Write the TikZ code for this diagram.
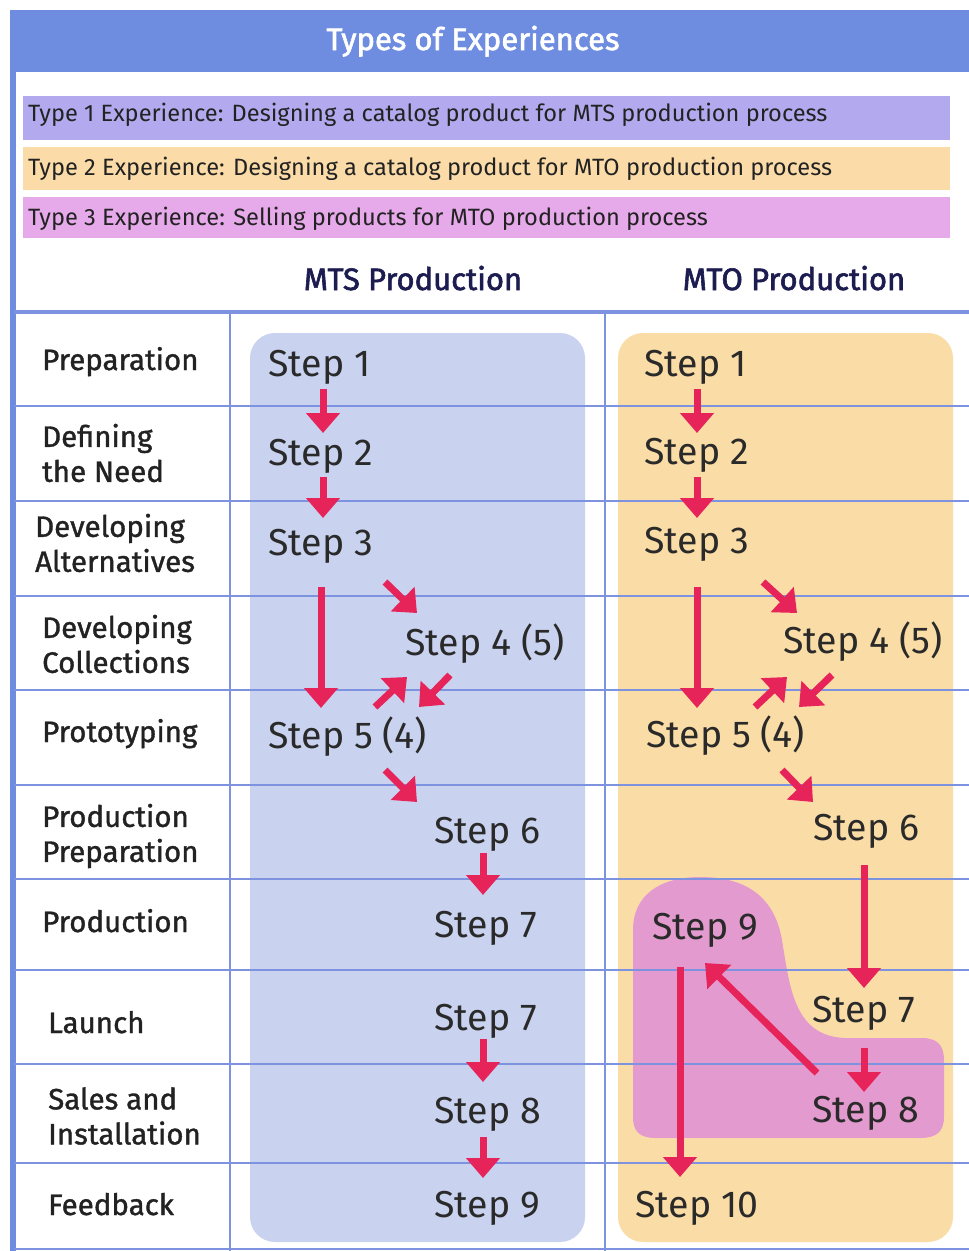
\documentclass[tikz,border=0pt]{standalone}
\usepackage{fontspec}
\setmainfont{Fira Sans}
\newfontfamily\medfont[FakeBold=1.2]{Fira Sans}
\newfontfamily\headfont[FakeBold=2]{Fira Sans}
\usetikzlibrary{arrows.meta}
\definecolor{bandblue}{HTML}{6E8CE0}
\definecolor{gridblue}{HTML}{7D93DF}
\definecolor{legpurple}{HTML}{B3A9EE}
\definecolor{legorange}{HTML}{FBDCA9}
\definecolor{legpink}{HTML}{E6A9EA}
\definecolor{mtspanel}{HTML}{C9D3EF}
\definecolor{mtopanel}{HTML}{FADDA6}
\definecolor{blobpink}{HTML}{E39BCF}
\definecolor{arrred}{HTML}{E6245A}
\definecolor{navyink}{HTML}{1C1C50}
\definecolor{labink}{HTML}{222222}
\definecolor{stepink}{HTML}{2A2A2A}
\begin{document}
\begin{tikzpicture}[x=1pt,y=-1pt,
  legtxt/.style={anchor=base west,inner sep=0,font=\fontsize{23.6}{26}\selectfont,text=labink},
  colhead/.style={anchor=base,inner sep=0,font=\headfont\fontsize{31}{34}\selectfont,text=navyink},
  rowlab/.style={inner sep=0,align=left,font=\medfont\fontsize{29.5}{35}\selectfont,text=labink},
  steptxt/.style={anchor=base west,inner sep=0,font=\fontsize{37.5}{40}\selectfont,text=stepink},
  gridline/.style={draw=gridblue,line width=2pt},
  arr/.style={draw=arrred,line width=7pt,-{Triangle[width=33pt,length=20pt]}}]
\useasboundingbox (0,0) rectangle (969,1251);
\fill[white] (0,0) rectangle (969,1251);

% title band and left border
\fill[bandblue] (10,10) rectangle (969,72);
\fill[bandblue] (10,10) rectangle (16,1251);
\node[anchor=base,inner sep=0,text=white,font=\headfont\fontsize{31}{34}\selectfont] (title) at (473,50) {Types of Experiences};

% legend bars
\fill[legpurple] (23,96) rectangle (950,140);
\fill[legorange] (23,147) rectangle (950,190);
\fill[legpink] (23,197) rectangle (950,238);
\node[legtxt] (leg1) at (28,121) {Type 1 Experience: Designing a catalog product for MTS production process};
\node[legtxt] (leg2) at (28,175) {Type 2 Experience: Designing a catalog product for MTO production process};
\node[legtxt] (leg3) at (28,225) {Type 3 Experience: Selling products for MTO production process};

% column headings
\node[colhead] (hmts) at (413,290) {MTS Production};
\node[colhead] (hmto) at (794,290) {MTO Production};

% process panels
\fill[mtspanel,rounded corners=25pt] (250,333) rectangle (585,1242);
\fill[mtopanel,rounded corners=25pt] (618,333) rectangle (953,1242);

% selling region of the MTO panel
\fill[blobpink] (633,1117) -- (633,930)
  .. controls (633,895) and (660,877) .. (700,877)
  .. controls (750,877) and (775,900) .. (782,940)
  .. controls (790,990) and (795,1036) .. (845,1038)
  -- (922,1038) .. controls (938,1038) and (944,1046) .. (944,1060)
  -- (944,1117) .. controls (944,1132) and (936,1138) .. (920,1138)
  -- (656,1138) .. controls (640,1138) and (633,1132) .. (633,1117) -- cycle;

% table grid
\draw[draw=gridblue,line width=3.5pt] (14,312) -- (969,312);
\foreach \yy in {406,501,596,690,785,879,970,1064,1163}
  \draw[gridline] (14,\yy) -- (969,\yy);
\draw[gridline] (14,1249) -- (969,1249);
\draw[gridline] (230,312) -- (230,1251);
\draw[gridline] (605,312) -- (605,1251);

% phase labels
\node[rowlab,anchor=base west] (r1) at (42,370) {Preparation};
\node[rowlab,anchor=west] (r2) at (42,453) {Defining\\the Need};
\node[rowlab,anchor=west] (r3) at (35,543) {Developing\\Alternatives};
\node[rowlab,anchor=west] (r4) at (42,644) {Developing\\Collections};
\node[rowlab,anchor=base west] (r5) at (42,742) {Prototyping};
\node[rowlab,anchor=west] (r6) at (42,836) {Production\\Preparation};
\node[rowlab,anchor=base west] (r7) at (42,932) {Production};
\node[rowlab,anchor=base west] (r8) at (48,1033) {Launch};
\node[rowlab,anchor=west] (r9) at (48,1116) {Sales and\\Installation};
\node[rowlab,anchor=base west] (r10) at (48,1215) {Feedback};

% MTS steps
\node[steptxt] (a1) at (268,376) {Step 1};
\node[steptxt] (a2) at (268,465) {Step 2};
\node[steptxt] (a3) at (268,555) {Step 3};
\node[steptxt] (a4) at (405,655) {Step 4 (5)};
\node[steptxt] (a5) at (268,748) {Step 5 (4)};
\node[steptxt] (a6) at (434,843) {Step 6};
\node[steptxt] (a7) at (434,937) {Step 7};
\node[steptxt] (a7b) at (434,1030) {Step 7};
\node[steptxt] (a8) at (434,1123) {Step 8};
\node[steptxt] (a9) at (434,1217) {Step 9};

% MTO steps
\node[steptxt] (b1) at (644,376) {Step 1};
\node[steptxt] (b2) at (644,464) {Step 2};
\node[steptxt] (b3) at (644,553) {Step 3};
\node[steptxt] (b4) at (783,653) {Step 4 (5)};
\node[steptxt] (b5) at (646,747) {Step 5 (4)};
\node[steptxt] (b6) at (813,840) {Step 6};
\node[steptxt] (b9) at (652,939) {Step 9};
\node[steptxt] (b7) at (812,1022) {Step 7};
\node[steptxt] (b8) at (812,1122) {Step 8};
\node[steptxt] (b10) at (635,1217) {Step 10};

% arrow ends, MTS
\coordinate (a1o) at (323,389);  \coordinate (a2i) at (323,433);
\coordinate (a2o) at (323,477);  \coordinate (a3i) at (323,518);
\coordinate (a3o) at (321,587);  \coordinate (a5i) at (321,708);
\coordinate (a3d) at (385,582);  \coordinate (a4i) at (417,613);
\coordinate (a5u) at (375,707);  \coordinate (a4u) at (407,677);
\coordinate (a4d) at (450,675);  \coordinate (a5d) at (419,707);
\coordinate (a5o) at (385,770);  \coordinate (a6i) at (417,802);
\coordinate (a6o) at (483,853);  \coordinate (a7i) at (483,895);
\coordinate (a7o) at (483,1039); \coordinate (a8i) at (483,1082);
\coordinate (a8o) at (483,1137); \coordinate (a9i) at (483,1178);

\draw[arr] (a1o) -- (a2i);
\draw[arr] (a2o) -- (a3i);
\draw[arr] (a3o) -- (a5i);
\draw[arr] (a3d) -- (a4i);
\draw[arr] (a5u) -- (a4u);
\draw[arr] (a4d) -- (a5d);
\draw[arr] (a5o) -- (a6i);
\draw[arr] (a6o) -- (a7i);
\draw[arr] (a7o) -- (a8i);
\draw[arr] (a8o) -- (a9i);

% arrow ends, MTO
\coordinate (b1o) at (697,389);  \coordinate (b2i) at (697,433);
\coordinate (b2o) at (697,477);  \coordinate (b3i) at (697,518);
\coordinate (b3o) at (697,587);  \coordinate (b5i) at (697,708);
\coordinate (b3d) at (763,582);  \coordinate (b4i) at (797,613);
\coordinate (b5u) at (755,707);  \coordinate (b4u) at (787,677);
\coordinate (b4d) at (832,675);  \coordinate (b5d) at (799,707);
\coordinate (b5o) at (782,770);  \coordinate (b6i) at (813,802);
\coordinate (b6o) at (864,865);  \coordinate (b7i) at (864,988);
\coordinate (b7o) at (864,1048); \coordinate (b8i) at (864,1092);
\coordinate (b8o) at (817,1073); \coordinate (b9i) at (705,963);
\coordinate (b9o) at (680,967);  \coordinate (b10i) at (680,1177);

\draw[arr] (b1o) -- (b2i);
\draw[arr] (b2o) -- (b3i);
\draw[arr] (b3o) -- (b5i);
\draw[arr] (b3d) -- (b4i);
\draw[arr] (b5u) -- (b4u);
\draw[arr] (b4d) -- (b5d);
\draw[arr] (b5o) -- (b6i);
\draw[arr] (b6o) -- (b7i);
\draw[arr] (b7o) -- (b8i);
\draw[arr] (b8o) -- (b9i);
\draw[arr] (b9o) -- (b10i);
\end{tikzpicture}
\end{document}
